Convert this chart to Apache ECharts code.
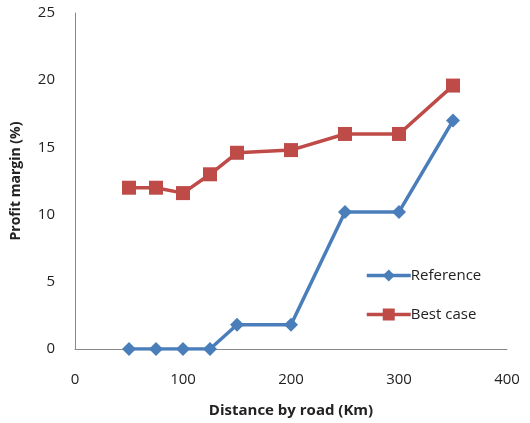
<!DOCTYPE html>
<html><head><meta charset="utf-8">
<script src="https://cdn.jsdelivr.net/npm/echarts@6/dist/echarts.min.js"></script>
<style>html,body{margin:0;padding:0;background:#fff}#c{width:530px;height:423px}</style>
</head><body><div id="c"></div>
<script>
var distances = [50, 75, 100, 125, 150, 200, 250, 300, 350];
var referenceValues = [0, 0, 0, 0, 1.8, 1.8, 10.2, 10.2, 17.0];
var bestCaseValues = [12.0, 12.0, 11.6, 13.0, 14.6, 14.8, 16.0, 16.0, 19.6];
var xTicks = [0, 100, 200, 300, 400];
var yTicks = [0, 5, 10, 15, 20, 25];

function pairs(xs, ys){ return xs.map(function(x,i){ return [x, ys[i]]; }); }
var chart = echarts.init(document.getElementById('c'));
var font = 'Open Sans, DejaVu Sans, sans-serif';
chart.setOption({
  animation: false,
  grid: {left: 75, right: 23, top: 13, bottom: 71},
  legend: {
    orient: 'vertical', left: 360, top: 263, itemGap: 24,
    itemWidth: 44, itemHeight: 15,
    lineStyle: {width: 3.5},
    textStyle: {fontFamily: font, fontSize: 15, color: '#222', padding: [0,0,0,-5]},
    data: ['Reference', 'Best case']
  },
  xAxis: {
    type: 'value', min: xTicks[0], max: xTicks[xTicks.length-1], interval: 100,
    name: 'Distance by road (Km)', nameLocation: 'middle', nameGap: 54,
    nameTextStyle: {fontFamily: font, fontSize: 15, fontWeight: 'bold', color: '#222'},
    axisLine: {lineStyle: {color: '#888', width: 1}},
    axisTick: {show: false},
    splitLine: {show: false},
    axisLabel: {fontFamily: font, fontSize: 15, color: '#222', margin: 23}
  },
  yAxis: {
    type: 'value', min: yTicks[0], max: yTicks[yTicks.length-1], interval: 5,
    name: 'Profit margin (%)', nameLocation: 'middle', nameGap: 52,
    nameTextStyle: {fontFamily: font, fontSize: 14, fontWeight: 'bold', color: '#222'},
    axisLine: {show: true, lineStyle: {color: '#888', width: 1}},
    axisTick: {show: false},
    splitLine: {show: false},
    axisLabel: {fontFamily: font, fontSize: 15, color: '#222', margin: 20}
  },
  series: [
    {name: 'Reference', type: 'line', data: pairs(distances, referenceValues),
     symbol: 'diamond', symbolSize: 14,
     lineStyle: {color: '#4a7ebb', width: 3.5}, itemStyle: {color: '#4a7ebb'}},
    {name: 'Best case', type: 'line', data: pairs(distances, bestCaseValues),
     symbol: 'rect', symbolSize: 14,
     lineStyle: {color: '#be4b48', width: 3.5}, itemStyle: {color: '#be4b48'}}
  ]
});
</script></body></html>
